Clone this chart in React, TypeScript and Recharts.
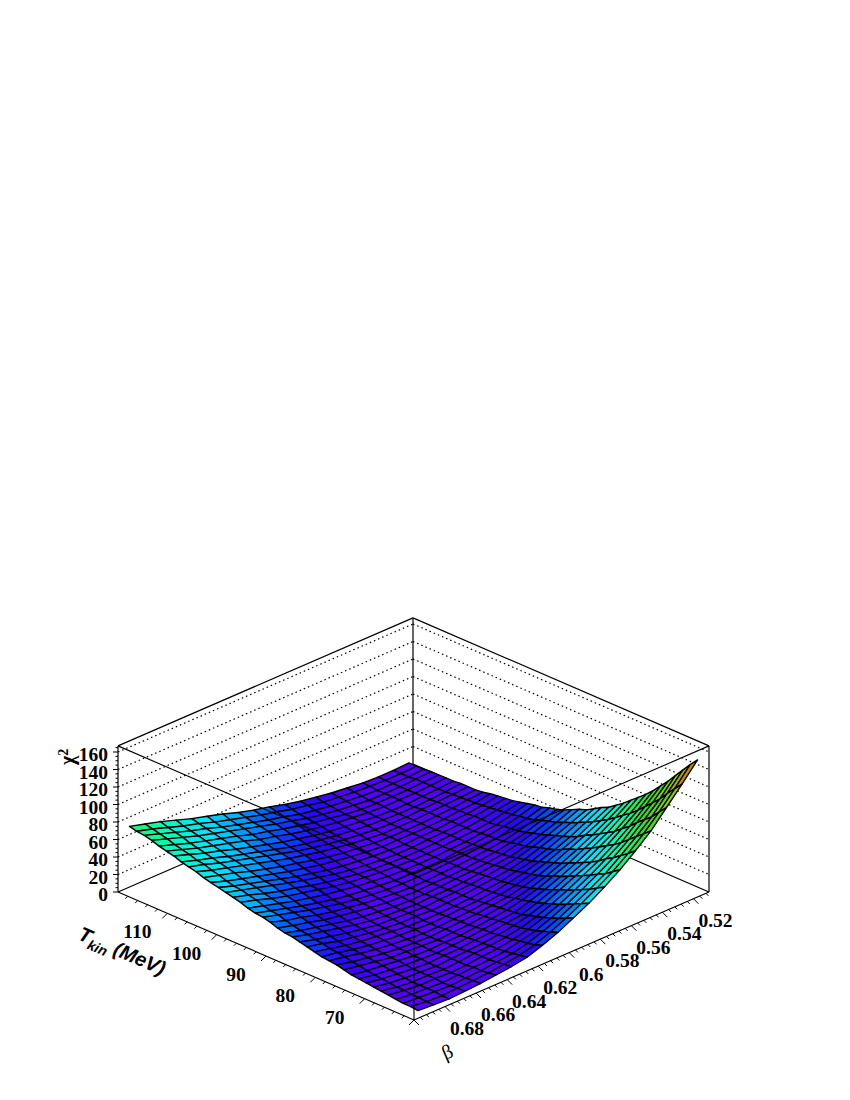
import { ScatterChart, Scatter, XAxis, YAxis } from "recharts";

const W = 850;
const H = 1100;

const zTicks = [0, 20, 40, 60, 80, 100, 120, 140, 160];
const tempTicks = [70, 80, 90, 100, 110];
const betaTicks = [0.52, 0.54, 0.56, 0.58, 0.6, 0.62, 0.64, 0.66, 0.68];

const tempNodes = [
  60.75, 62.25, 63.75, 65.25, 66.75, 68.25, 69.75, 71.25, 72.75, 74.25,
  75.75, 77.25, 78.75, 80.25, 81.75, 83.25, 84.75, 86.25, 87.75, 89.25,
  90.75, 92.25, 93.75, 95.25, 96.75, 98.25, 99.75, 101.25, 102.75, 104.25,
  105.75, 107.25, 108.75, 110.25, 111.75, 113.25, 114.75, 116.25, 117.75, 119.25,
];
const betaNodes = [
  0.515, 0.525, 0.535, 0.545, 0.555, 0.565, 0.575, 0.585, 0.595, 0.605,
  0.615, 0.625, 0.635, 0.645, 0.655, 0.665, 0.675, 0.685, 0.695,
];

// estimated: edges, interior judged from the edges and colour bands
// one row per tempNodes entry, one column per betaNodes entry
const chi2 = [
  [153, 133, 114, 95, 80, 66, 54, 43, 34, 25, 18, 12, 9, 7, 5, 4, 3, 4, 5],
  [144, 124, 105, 88, 73, 60, 49, 39, 30, 22, 15, 11, 8, 6, 5, 4, 3, 4, 6],
  [134, 115, 96, 81, 67, 54, 44, 35, 26, 19, 13, 9, 7, 5, 4, 3, 4, 5, 6],
  [124, 105, 89, 74, 61, 50, 40, 31, 23, 16, 12, 8, 6, 5, 4, 3, 4, 5, 7],
  [114, 97, 82, 67, 56, 45, 36, 27, 20, 14, 10, 7, 6, 4, 3, 4, 4, 6, 8],
  [105, 89, 74, 61, 50, 41, 32, 24, 17, 12, 9, 7, 6, 4, 3, 4, 4, 6, 9],
  [96, 81, 68, 56, 45, 37, 29, 21, 15, 11, 8, 6, 5, 4, 3, 4, 5, 7, 10],
  [88, 74, 61, 51, 41, 33, 25, 18, 12, 10, 7, 6, 4, 4, 3, 4, 6, 8, 11],
  [81, 68, 56, 46, 37, 29, 22, 16, 11, 9, 7, 5, 4, 3, 4, 5, 7, 9, 12],
  [74, 62, 51, 42, 33, 26, 19, 14, 10, 8, 6, 4, 4, 3, 4, 6, 8, 10, 13],
  [67, 56, 46, 37, 29, 22, 16, 12, 9, 7, 5, 4, 3, 4, 5, 6, 9, 12, 15],
  [61, 51, 42, 34, 26, 19, 14, 10, 8, 6, 5, 4, 3, 4, 5, 7, 10, 13, 17],
  [55, 46, 37, 30, 23, 17, 12, 9, 7, 5, 4, 3, 3, 4, 6, 8, 11, 15, 18],
  [51, 42, 33, 26, 20, 15, 11, 8, 6, 5, 4, 3, 4, 5, 7, 9, 12, 16, 19],
  [46, 38, 30, 23, 17, 13, 9, 7, 5, 4, 3, 3, 4, 6, 8, 10, 13, 17, 21],
  [41, 34, 27, 21, 15, 11, 9, 7, 5, 4, 3, 4, 4, 6, 8, 11, 14, 19, 23],
  [38, 31, 24, 18, 13, 10, 8, 6, 5, 4, 3, 4, 5, 6, 9, 12, 16, 20, 25],
  [34, 27, 21, 15, 11, 9, 7, 5, 4, 4, 3, 4, 5, 7, 10, 14, 18, 22, 27],
  [30, 25, 19, 14, 10, 8, 6, 5, 4, 3, 3, 4, 6, 8, 11, 15, 19, 23, 28],
  [27, 22, 16, 12, 9, 7, 5, 4, 4, 3, 4, 5, 7, 10, 13, 16, 21, 25, 30],
  [25, 19, 14, 10, 8, 6, 5, 4, 3, 3, 4, 6, 8, 11, 14, 18, 23, 27, 33],
  [22, 17, 13, 9, 7, 6, 5, 4, 4, 4, 5, 7, 9, 12, 16, 20, 25, 30, 35],
  [21, 16, 12, 9, 7, 6, 4, 4, 4, 4, 6, 8, 10, 13, 17, 21, 26, 31, 36],
  [19, 14, 10, 8, 6, 5, 4, 4, 4, 5, 7, 9, 12, 15, 19, 23, 28, 33, 38],
  [17, 13, 9, 7, 6, 5, 4, 4, 5, 6, 8, 10, 13, 17, 21, 25, 30, 36, 41],
  [15, 12, 9, 7, 6, 5, 4, 4, 5, 6, 8, 11, 14, 18, 23, 27, 32, 38, 43],
  [14, 11, 9, 7, 6, 5, 4, 4, 5, 7, 9, 12, 16, 20, 25, 30, 35, 40, 45],
  [13, 10, 8, 7, 5, 5, 4, 5, 6, 8, 10, 13, 17, 21, 26, 31, 36, 41, 47],
  [12, 9, 8, 6, 5, 5, 5, 5, 7, 9, 12, 15, 19, 23, 28, 33, 38, 43, 49],
  [10, 9, 7, 6, 5, 5, 5, 6, 8, 10, 13, 17, 21, 25, 30, 35, 41, 46, 51],
  [9, 8, 7, 6, 5, 5, 5, 7, 9, 12, 15, 19, 23, 28, 33, 38, 43, 48, 54],
  [9, 8, 7, 6, 5, 5, 6, 8, 10, 13, 16, 20, 25, 30, 35, 40, 45, 51, 56],
  [9, 7, 6, 5, 5, 6, 7, 9, 11, 14, 17, 21, 26, 31, 36, 41, 47, 52, 58],
  [8, 7, 6, 5, 5, 6, 8, 10, 12, 15, 19, 23, 28, 33, 38, 44, 49, 55, 61],
  [8, 7, 6, 6, 6, 7, 9, 11, 14, 17, 21, 26, 30, 36, 41, 46, 51, 57, 63],
  [8, 7, 6, 6, 6, 7, 9, 12, 15, 19, 23, 28, 32, 38, 43, 48, 53, 59, 65],
  [8, 7, 6, 6, 6, 8, 10, 13, 16, 21, 25, 30, 35, 40, 45, 50, 56, 62, 68],
  [7, 6, 6, 6, 7, 9, 11, 14, 17, 22, 26, 31, 36, 41, 47, 52, 58, 64, 70],
  [7, 6, 6, 7, 8, 10, 12, 16, 19, 24, 28, 33, 38, 43, 49, 54, 60, 66, 71],
  [7, 6, 6, 7, 9, 11, 14, 17, 21, 26, 30, 35, 41, 46, 51, 57, 63, 68, 73],
];

const TMIN = 60;
const TMAX = 120;
const BMIN = 0.51;
const BMAX = 0.7;
const ZTOP = 167;

// 3d box to the chart's x/y plane, the x and y axes below run in these units
const project = (T: number, b: number, z: number) => ({
  x: 414 - (T - TMIN) * (296 / 60) + (BMAX - b) * (295 / 0.19),
  y: 1020 - (T - TMIN) * (128 / 60) - (BMAX - b) * (128 / 0.19) - z * 0.875,
});

const stops: [number, string][] = [
  [0, "#5a00ff"], [8, "#5000ff"], [15, "#2808ff"], [25, "#0050ff"], [35, "#00a0ff"],
  [45, "#00e0ff"], [60, "#00ffc0"], [72, "#18f878"], [90, "#30e020"], [120, "#90d000"],
  [140, "#d08000"], [160, "#d03000"],
];
const hex = (c: string) => [1, 3, 5].map((i) => parseInt(c.slice(i, i + 2), 16));
const colorOf = (z: number) => {
  const q = Math.floor(z / 3.3) * 3.3 + 1.65;
  for (let i = 1; i < stops.length; i++) {
    if (q <= stops[i][0]) {
      const [a, ca] = stops[i - 1];
      const [b, cb] = stops[i];
      const t = (q - a) / (b - a);
      const A = hex(ca);
      const B = hex(cb);
      return `rgb(${A.map((v, k) => Math.round(v + t * (B[k] - v))).join(",")})`;
    }
  }
  return stops[stops.length - 1][1];
};

type P = { x: number; y: number };

// back corner first so nearer cells paint over farther ones
const cells: any[] = [];
for (let i = tempNodes.length - 2; i >= 0; i--) {
  for (let j = 0; j < betaNodes.length - 1; j++) {
    const c = [
      project(tempNodes[i], betaNodes[j], chi2[i][j]),
      project(tempNodes[i + 1], betaNodes[j], chi2[i + 1][j]),
      project(tempNodes[i + 1], betaNodes[j + 1], chi2[i + 1][j + 1]),
      project(tempNodes[i], betaNodes[j + 1], chi2[i][j + 1]),
    ];
    const mid = (chi2[i][j] + chi2[i + 1][j] + chi2[i + 1][j + 1] + chi2[i][j + 1]) / 4;
    cells.push({
      x: c[0].x,
      y: c[0].y,
      offs: c.map((p) => [p.x - c[0].x, p.y - c[0].y]),
      fill: colorOf(mid),
    });
  }
}

const seg = (a: P, b: P) => ({ x: a.x, y: a.y, dx: b.x - a.x, dy: b.y - a.y });

const left = (z: number) => project(TMAX, BMAX, z);
const front = (z: number) => project(TMIN, BMAX, z);
const right = (z: number) => project(TMIN, BMIN, z);
const back = (z: number) => project(TMAX, BMIN, z);

const gridLines = zTicks.slice(1).flatMap((z) => [seg(left(z), back(z)), seg(back(z), right(z))]);
const backBox = [
  seg(left(0), back(0)), seg(back(0), right(0)), seg(back(0), back(ZTOP)),
  seg(left(ZTOP), back(ZTOP)), seg(back(ZTOP), right(ZTOP)),
  seg(left(0), left(ZTOP)), seg(right(0), right(ZTOP)),
];
const frontBox = [
  seg(left(ZTOP), front(ZTOP)), seg(front(ZTOP), right(ZTOP)), seg(front(0), front(ZTOP)),
  seg(left(0), front(0)), seg(front(0), right(0)),
];

const ticks: any[] = [];
for (let z = 0; z <= 165; z += 5) {
  const p = left(z);
  ticks.push({ x: p.x, y: p.y, dx: z % 20 === 0 ? -5 : -2.5, dy: 0 });
}
for (let k = 0; k <= 29; k++) {
  const p = project(TMIN + k * 2, BMAX, 0);
  const l = k % 5 === 0 ? 5 : 2.5;
  ticks.push({ x: p.x, y: p.y, dx: -l, dy: l });
}
for (let k = 0; k <= 47; k++) {
  const p = project(TMIN, BMAX - k * 0.004, 0);
  const l = k % 5 === 0 ? 5 : 2.5;
  ticks.push({ x: p.x, y: p.y, dx: l, dy: l });
}

const labelFont = "'Liberation Serif', serif";
const zLabels = zTicks.map((z) => ({ ...left(z), text: String(z), ox: -10, oy: 9, anchor: "end" }));
const tempLabels = tempTicks.map((t) => ({ ...project(t, BMAX, 0), text: String(t), ox: -30, oy: 25, anchor: "middle" }));
const betaLabels = betaTicks.map((b) => ({ ...project(TMIN, b, 0), text: String(b), ox: 22, oy: 28, anchor: "middle" }));

const titles = [
  { x: 74, y: 765, kind: "z" },
  { x: 77, y: 939, kind: "t" },
  { x: 450, y: 1058, kind: "b" },
];

const Polygon = (p: any) => (
  <polygon
    points={p.payload.offs.map((o: number[]) => `${p.cx + o[0]},${p.cy + o[1]}`).join(" ")}
    fill={p.payload.fill}
    stroke="#000"
    strokeWidth={1.4}
    strokeLinejoin="round"
  />
);

const lineShape = (width: number, dash?: string) => (p: any) => (
  <line
    x1={p.cx}
    y1={p.cy}
    x2={p.cx + p.payload.dx}
    y2={p.cy + p.payload.dy}
    stroke="#000"
    strokeWidth={width}
    strokeDasharray={dash}
  />
);

const LabelShape = (p: any) => (
  <text
    x={p.cx + p.payload.ox}
    y={p.cy + p.payload.oy}
    textAnchor={p.payload.anchor}
    fontFamily={labelFont}
    fontWeight="bold"
    fontSize={19.5}
    fill="#000"
  >
    {p.payload.text}
  </text>
);

const Titles = (p: any) => {
  const { kind } = p.payload;
  if (kind === "z")
    return (
      <text transform={`rotate(-90 ${p.cx} ${p.cy})`} x={p.cx} y={p.cy} fontFamily={labelFont} fontWeight="bold" fontSize={20}>
        χ<tspan dy={-6} fontSize={14}>2</tspan>
      </text>
    );
  if (kind === "t")
    return (
      <text
        transform={`rotate(23.4 ${p.cx} ${p.cy})`}
        x={p.cx}
        y={p.cy}
        fontFamily="'Liberation Sans', sans-serif"
        fontWeight="bold"
        fontStyle="italic"
        fontSize={20}
      >
        T<tspan dy={5} fontSize={14}>kin</tspan><tspan dy={-5}> (MeV)</tspan>
      </text>
    );
  return (
    <text transform={`rotate(-23.4 ${p.cx} ${p.cy})`} x={p.cx} y={p.cy} textAnchor="middle" fontFamily={labelFont} fontSize={20}>
      β
    </text>
  );
};

export default function App() {
  return (
    <div style={{ position: "absolute", left: 0, top: 0, width: W, height: H }}>
      <ScatterChart width={W} height={H} margin={{ top: 0, right: 0, bottom: 0, left: 0 }}>
        <XAxis dataKey="x" type="number" domain={[0, W]} hide />
        <YAxis dataKey="y" type="number" domain={[0, H]} reversed hide />
        <Scatter data={gridLines} isAnimationActive={false} shape={lineShape(1.2, "1.5 3")} />
        <Scatter data={backBox} isAnimationActive={false} shape={lineShape(1.2)} />
        <Scatter data={cells} isAnimationActive={false} shape={Polygon} />
        <Scatter data={frontBox} isAnimationActive={false} shape={lineShape(1.1)} />
        <Scatter data={ticks} isAnimationActive={false} shape={lineShape(1)} />
        <Scatter data={[...zLabels, ...tempLabels, ...betaLabels]} isAnimationActive={false} shape={LabelShape} />
        <Scatter data={titles} isAnimationActive={false} shape={Titles} />
      </ScatterChart>
    </div>
  );
}
